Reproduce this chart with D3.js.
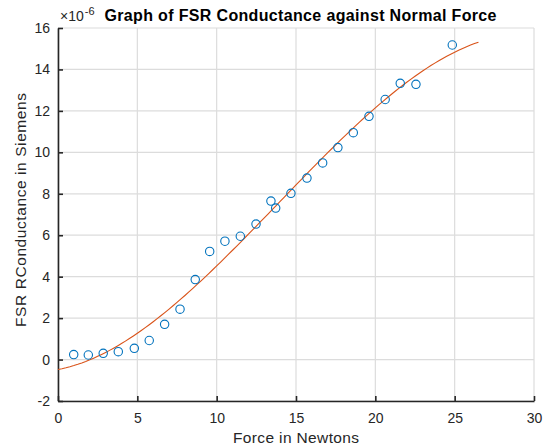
<!DOCTYPE html>
<html>
<head>
<meta charset="utf-8">
<script src="https://cdn.jsdelivr.net/npm/d3@7"></script>
<style>
  body { margin: 0; background: #fff; }
  text { font-family: Arial, "Liberation Sans", Helvetica, sans-serif; }
</style>
</head>
<body>
<div id="chart"></div>
<script>
// measured data (force in N, conductance in units of 1e-6 S)
var forceN = [0.99, 1.91, 2.85, 3.80, 4.81, 5.75, 6.72, 7.69, 8.65, 9.56, 10.52, 11.49,
  12.48, 13.42, 13.72, 14.68, 15.69, 16.68, 17.64, 18.61, 19.60, 20.62, 21.57, 22.56, 24.85];
var conductance = [0.24, 0.22, 0.30, 0.38, 0.54, 0.92, 1.70, 2.43, 3.86, 5.22, 5.71, 5.95,
  6.54, 7.65, 7.31, 8.02, 8.76, 9.49, 10.23, 10.95, 11.74, 12.55, 13.33, 13.28, 15.18];
var fitRange = [0, 26.5];
var xTicks = [0, 5, 10, 15, 20, 25, 30];
var yTicks = [-2, 0, 2, 4, 6, 8, 10, 12, 14, 16];

var width = 544,
height = 448,
margin = {left: 58, right: 10, top: 28, bottom: 47};

var svg = d3.select('#chart').append('svg')
    .attr('width', width).attr('height', height);

var x = d3.scaleLinear().domain([0, 30]).range([margin.left, width - margin.right]);
var y = d3.scaleLinear().domain([-2, 16]).range([height - margin.bottom, margin.top]);

// cubic least squares fit of the measured points
function polyfit(xs, ys, deg) {
  var n = deg + 1, A = [], b = [];
  for (var i = 0; i < n; i++) {
    A.push(d3.range(n).map(function(j) { return d3.sum(xs, function(v) { return Math.pow(v, i + j); }); }));
    b.push(d3.sum(xs, function(v, k) { return ys[k] * Math.pow(v, i); }));
  }
  for (var c = 0; c < n; c++) {
    var p = c;
    for (var r = c + 1; r < n; r++) if (Math.abs(A[r][c]) > Math.abs(A[p][c])) p = r;
    var t = A[c]; A[c] = A[p]; A[p] = t;
    t = b[c]; b[c] = b[p]; b[p] = t;
    for (r = c + 1; r < n; r++) {
      var f = A[r][c] / A[c][c];
      for (var k = c; k < n; k++) A[r][k] -= f * A[c][k];
      b[r] -= f * b[c];
    }
  }
  var coef = new Array(n);
  for (var m = n - 1; m >= 0; m--) {
    var s = b[m];
    for (var q = m + 1; q < n; q++) s -= A[m][q] * coef[q];
    coef[m] = s / A[m][m];
  }
  return coef;
}
var coef = polyfit(forceN, conductance, 3);
function evalFit(v) { return d3.sum(coef, function(c, i) { return c * Math.pow(v, i); }); }

// grid
svg.append('g').selectAll('line').data(xTicks).enter().append('line')
  .attr('x1', d => x(d)).attr('x2', d => x(d))
  .attr('y1', y(-2)).attr('y2', y(16))
  .attr('stroke', '#dcdcdc').attr('stroke-width', 1.2);
svg.append('g').selectAll('line').data(yTicks).enter().append('line')
  .attr('x1', x(0)).attr('x2', x(30))
  .attr('y1', d => y(d)).attr('y2', d => y(d))
  .attr('stroke', '#dcdcdc').attr('stroke-width', 1.2);

// axes (plain hyphen for negatives, like the original)
var fmt = function(d) { return String(d); };
var xAxis = svg.append('g')
  .attr('transform', 'translate(0,' + y(-2) + ')')
  .call(d3.axisBottom(x).tickValues(xTicks).tickFormat(fmt).tickSizeInner(-5).tickSizeOuter(0).tickPadding(12));
var yAxis = svg.append('g')
  .attr('transform', 'translate(' + x(0) + ',0)')
  .call(d3.axisLeft(y).tickValues(yTicks).tickFormat(fmt).tickSizeInner(-5).tickSizeOuter(0).tickPadding(8));
[xAxis, yAxis].forEach(function(a) {
  a.select('.domain').attr('stroke', '#262626').attr('stroke-width', 1.6);
  a.selectAll('.tick line').attr('stroke', '#262626').attr('stroke-width', 1.6);
  a.selectAll('.tick text').attr('fill', '#262626').style('font-size', '14px');
});

// fit line
var line = d3.line().x(d => x(d)).y(d => y(evalFit(d)));
svg.append('path')
  .datum(d3.range(fitRange[0], fitRange[1] + 0.001, 0.25))
  .attr('d', line)
  .attr('fill', 'none')
  .attr('stroke', '#d95319')
  .attr('stroke-width', 1.1);

// measured points
svg.append('g').selectAll('circle').data(forceN).enter().append('circle')
  .attr('cx', d => x(d))
  .attr('cy', (d, i) => y(conductance[i]))
  .attr('r', 4.2)
  .attr('fill', 'none')
  .attr('stroke', '#0072bd')
  .attr('stroke-width', 1.1);

// exponent label
var expo = svg.append('text').attr('x', x(0) + 2).attr('y', 21)
  .attr('fill', '#262626').style('font-size', '14px');
expo.append('tspan').text('\u00d710');
expo.append('tspan').attr('dx', 1).attr('dy', -6).style('font-size', '11px').text('-6');

// title
svg.append('text')
  .attr('x', 300.5).attr('y', 20.5)
  .attr('text-anchor', 'middle')
  .attr('fill', '#000')
  .attr('textLength', 392).attr('lengthAdjust', 'spacing')
  .style('font-size', '16px').style('font-weight', 'bold')
  .text('Graph of FSR Conductance against Normal Force');

// axis labels
svg.append('text')
  .attr('x', (x(0) + x(30)) / 2).attr('y', 443)
  .attr('text-anchor', 'middle')
  .attr('fill', '#262626')
  .attr('textLength', 126).attr('lengthAdjust', 'spacing')
  .style('font-size', '15.5px')
  .text('Force in Newtons');
svg.append('text')
  .attr('transform', 'translate(26,210) rotate(-90)')
  .attr('text-anchor', 'middle')
  .attr('fill', '#262626')
  .attr('textLength', 234).attr('lengthAdjust', 'spacing')
  .style('font-size', '15.5px')
  .text('FSR RConductance in Siemens');
</script>
</body>
</html>
